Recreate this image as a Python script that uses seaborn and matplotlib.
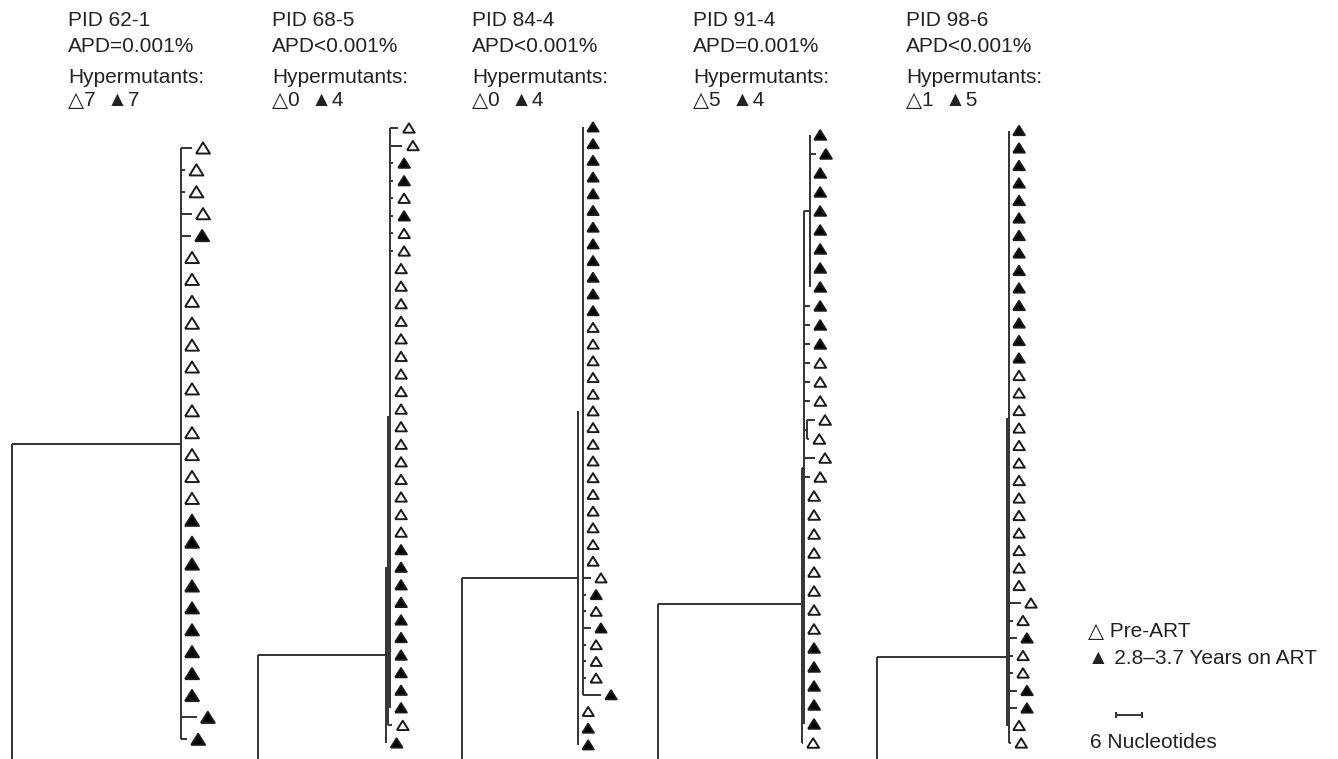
import numpy as np
import pandas as pd
import seaborn as sns
import matplotlib.pyplot as plt

sns.set_theme(style="white")
plt.rcParams["font.family"] = ["Liberation Sans", "DejaVu Sans"]

# header per patient
PIDS = ["PID 62-1", "PID 68-5", "PID 84-4", "PID 91-4", "PID 98-6"]
APDS = ["APD=0.001%", "APD<0.001%", "APD<0.001%", "APD=0.001%", "APD<0.001%"]
HYPER_PRE = [7, 0, 0, 5, 1]
HYPER_ART = [7, 4, 4, 4, 5]

# tips top to bottom: o = pre-ART, f = on ART
STATES_62 = "oooof" "oooooooooooo" "fffffffffff"
STATES_68 = "ooffofoo" "oooooooooooooooo" "ffffffffff" "of"
STATES_84 = "ffffffffffff" "ooooooooooooooo" "ofofooo" "f" "o" "ff"
STATES_91 = "ffffffffffff" "ooooooooooooooo" "fffff" "o"
STATES_98 = "ffffffffffffff" "ooooooooooooo" "oofooffoo"

# terminal branch lengths (nucleotides), only the non-zero ones
TIPLEN_62 = {0: 2.5, 1: 1.0, 2: 1.0, 3: 2.5, 4: 2.3, 26: 3.6, 27: 1.4}
TIPLEN_68 = {0: 1.8, 1: 2.7, 2: 0.7, 3: 0.7, 4: 0.7, 5: 0.7, 6: 0.7, 7: 0.7, 34: 0.9}
TIPLEN_84 = {27: 1.8, 28: 0.7, 29: 0.7, 30: 1.8, 31: 0.7, 32: 0.7, 33: 0.7, 34: 4.1}
TIPLEN_91 = {1: 1.3, 9: 1.4, 10: 1.4, 11: 1.4, 12: 1.4, 13: 1.4, 14: 1.4,
             15: 1.8, 16: 0.5, 17: 2.5, 18: 1.4, 32: 0.3}
TIPLEN_98 = {27: 2.7, 28: 0.9, 29: 1.8, 30: 0.9, 31: 0.9, 32: 1.8, 33: 1.8, 35: 0.5}

# node depth each tip hangs from, relative to the main node
TIPBASE_62 = {}
TIPBASE_68 = {34: -0.5, 35: -1.0}
TIPBASE_84 = {35: -1.1, 36: -1.1, 37: -1.1}
TIPBASE_91 = {0: 1.4, 1: 1.4, 2: 1.4, 3: 1.4, 4: 1.4, 5: 1.4, 6: 1.4, 7: 1.4,
              8: 1.4, 15: 0.7, 16: 0.7, 32: -0.5}
TIPBASE_98 = {}

# internal vertical segments: (depth, first tip, last tip)
CLADES_62 = [(0.0, 0, 27)]
CLADES_68 = [(0.0, 0, 33), (-0.5, 16.4, 34), (-1.0, 25, 35)]
CLADES_84 = [(0.0, 0, 34), (-1.1, 17, 37)]
CLADES_91 = [(1.4, 0, 8), (0.0, 4, 31), (0.7, 15, 16), (-0.5, 17.5, 32)]
CLADES_98 = [(0.0, 0, 35), (-0.4, 16.4, 34)]

# short links between nested nodes: (tip position, from depth, to depth)
LINKS_62 = []
LINKS_68 = []
LINKS_84 = []
LINKS_91 = [(4, 0.0, 1.4), (15.5, 0.0, 0.7), (17.5, -0.5, 0.0)]
LINKS_98 = []

# branch to the reference: (tip position, depth, length in nucleotides)
ROOT_62 = (13.5, 0.0, 38.4)
ROOT_68 = (30.0, -1.0, 29.1)
ROOT_84 = (27.0, -1.1, 26.4)
ROOT_91 = (24.7, -0.5, 32.7)
ROOT_98 = (30.1, -0.4, 29.6)

SCALE_NT = 6

# layout (pixels)
W, H = 1338, 759
PX_PER_NT = 4.4
PANEL_X = [181, 390, 583, 804, 1009]
PANEL_Y0 = [148, 128, 127, 135, 130.5]
PANEL_DY = [21.9, 17.57, 16.7, 19.0, 17.5]
MARKER_S = [100, 70, 66, 74, 70]
MARKER_GAP = [11, 11, 10, 10, 10]
TEXT_X = [68, 272, 472, 693, 906]
TEXT_BASE = [26, 52, 83, 106]
FS = 15
LINE = "#333333"
LW = 1.4
TRI = [(-1, -0.8), (1, -0.8), (0, 0.8), (-1, -0.8)]

trees = [
    (STATES_62, TIPLEN_62, TIPBASE_62, CLADES_62, LINKS_62, ROOT_62),
    (STATES_68, TIPLEN_68, TIPBASE_68, CLADES_68, LINKS_68, ROOT_68),
    (STATES_84, TIPLEN_84, TIPBASE_84, CLADES_84, LINKS_84, ROOT_84),
    (STATES_91, TIPLEN_91, TIPBASE_91, CLADES_91, LINKS_91, ROOT_91),
    (STATES_98, TIPLEN_98, TIPBASE_98, CLADES_98, LINKS_98, ROOT_98),
]

fig = plt.figure(figsize=(W / 100, H / 100), dpi=100)

for k, (states, tiplen, tipbase, clades, links, root) in enumerate(trees):
    bx, y0, dy = PANEL_X[k], PANEL_Y0[k], PANEL_DY[k]
    ry, roff, rlen = root
    left_px = bx + (roff - rlen) * PX_PER_NT - 8
    right_px = bx + 45
    top_px = y0 - dy
    ax = fig.add_axes([left_px / W, 0, (right_px - left_px) / W, (H - top_px) / H])
    ax.set_xlim((left_px - bx) / PX_PER_NT, (right_px - bx) / PX_PER_NT)
    ax.set_ylim((H - y0) / dy, (top_px - y0) / dy)
    ax.axis("off")

    n = len(states)
    ys = np.arange(n)
    base = np.array([tipbase.get(i, 0.0) for i in range(n)])
    blen = np.array([tiplen.get(i, 0.0) for i in range(n)])
    has = blen > 0
    ax.hlines(ys[has], base[has], base[has] + blen[has], color=LINE, lw=LW)
    for depth, top, bot in clades:
        ax.vlines(depth, top, bot, color=LINE, lw=LW)
    for y, a, b in links:
        ax.hlines(y, a, b, color=LINE, lw=LW)
    ax.hlines(ry, roff - rlen, roff, color=LINE, lw=LW)
    ax.vlines(roff - rlen, ry, ax.get_ylim()[0], color=LINE, lw=LW)

    tips = pd.DataFrame({
        "x": base + blen + MARKER_GAP[k] / PX_PER_NT,
        "y": ys,
        "state": list(states),
    })
    sns.scatterplot(data=tips, x="x", y="y", hue="state",
                    palette={"o": "white", "f": "black"}, marker=TRI,
                    s=MARKER_S[k], edgecolor="#1a1a1a", linewidth=1.4,
                    legend=False, ax=ax, zorder=3, clip_on=False)
    ax.set_xlabel("")
    ax.set_ylabel("")

    tx = TEXT_X[k] / W
    fig.text(tx, 1 - TEXT_BASE[0] / H, PIDS[k], fontsize=FS, va="baseline", color="#222222")
    fig.text(tx, 1 - TEXT_BASE[1] / H, APDS[k], fontsize=FS, va="baseline", color="#222222")
    fig.text(tx, 1 - TEXT_BASE[2] / H, "Hypermutants:", fontsize=FS, va="baseline", color="#222222")
    fig.text(tx, 1 - TEXT_BASE[3] / H, f"\u25b3{HYPER_PRE[k]}  \u25b2{HYPER_ART[k]}",
             fontsize=FS, va="baseline", color="#222222")

# legend
fig.text(1088 / W, 1 - 637 / H, "\u25b3 Pre-ART", fontsize=FS, va="baseline", color="#222222")
fig.text(1088 / W, 1 - 664 / H, "\u25b2 2.8\u20133.7 Years on ART", fontsize=FS,
         va="baseline", color="#222222")

# scale bar
sax = fig.add_axes([1110 / W, 1 - 725 / H, 40 / W, 20 / H])
sax.set_xlim(-6 / PX_PER_NT, 34 / PX_PER_NT)
sax.set_ylim(-1, 1)
sax.axis("off")
sax.hlines(0, 0, SCALE_NT, color=LINE, lw=LW)
sax.vlines([0, SCALE_NT], -0.3, 0.3, color=LINE, lw=LW)
fig.text(1090 / W, 1 - 748 / H, f"{SCALE_NT} Nucleotides", fontsize=FS, va="baseline",
         color="#222222")

fig.savefig("out.png", dpi=100)
